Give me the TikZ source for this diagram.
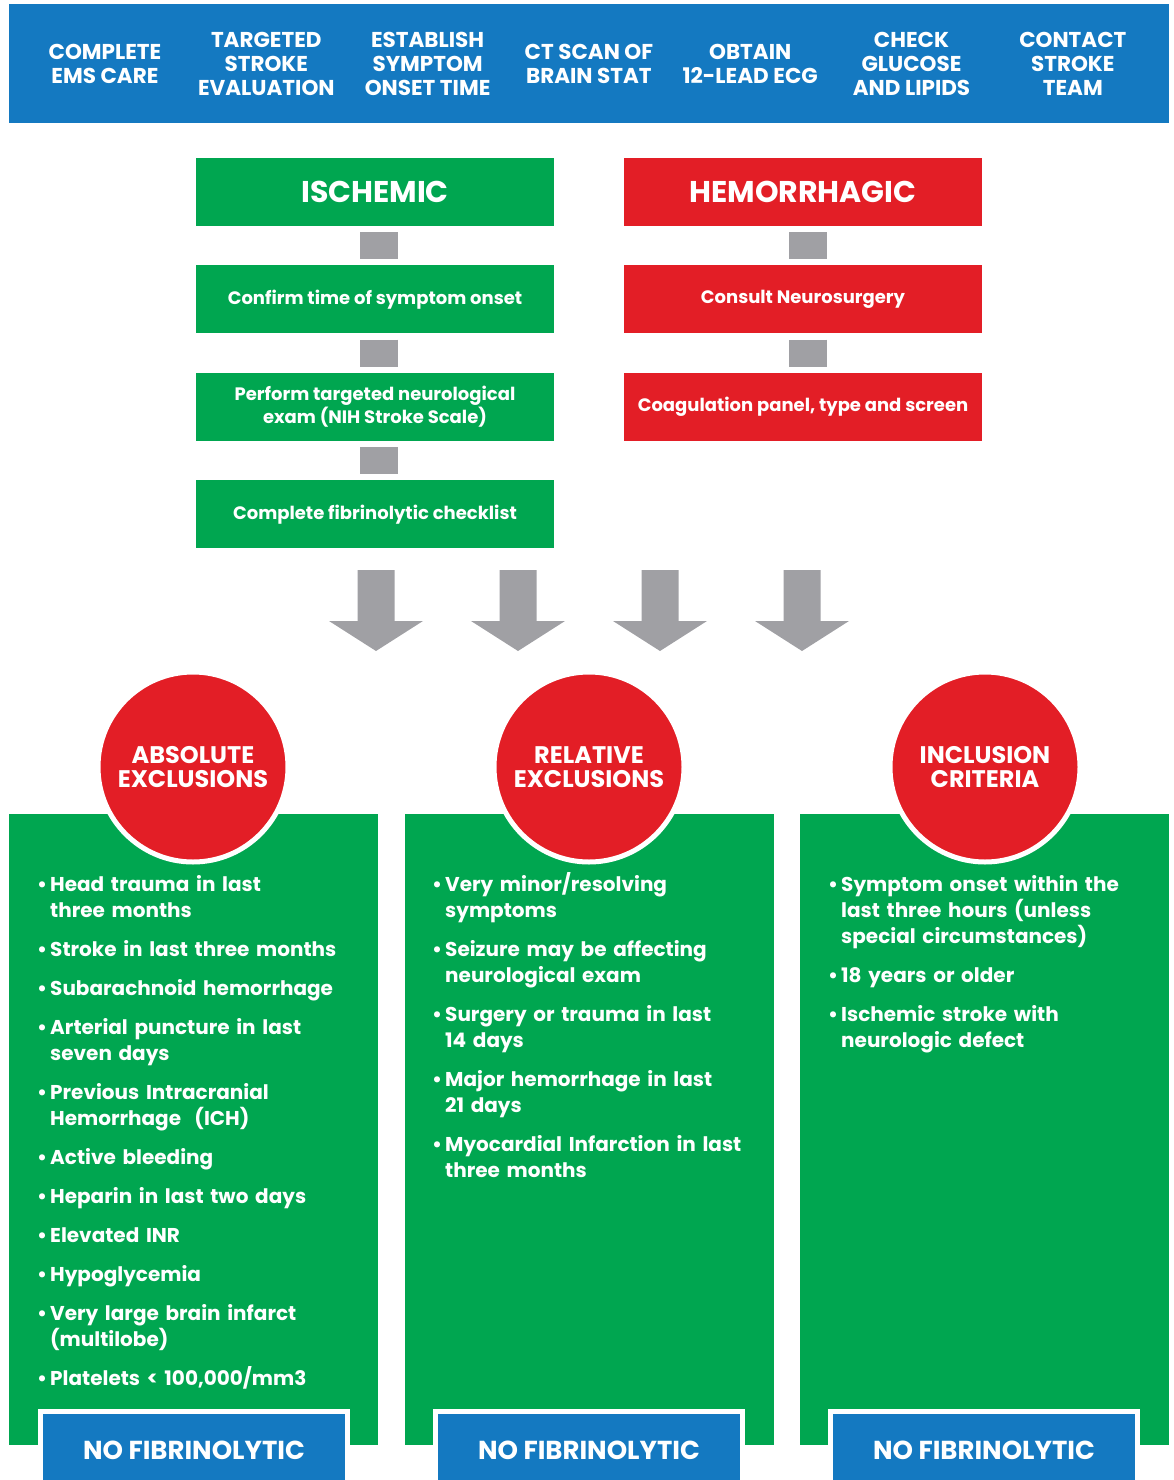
\documentclass[tikz,border=0pt]{standalone}
\usepackage{fontspec}
\setmainfont{Poppins}
\usetikzlibrary{positioning}
\definecolor{hdrblue}{HTML}{1479C1}
\definecolor{okgreen}{HTML}{00A650}
\definecolor{stopred}{HTML}{E31E26}
\definecolor{stepgray}{HTML}{A0A0A4}
\newcommand{\bulitem}[1]{\par\hangindent=13pt\hangafter=1\noindent\makebox[13pt][l]{•}#1}

\begin{document}
\begin{tikzpicture}[x=1pt, y=-1pt,
hdrtext/.style={text=white, align=center, font=\fontsize{21.5}{24}\selectfont\bfseries},
greenbox/.style={rectangle, fill=okgreen, text=white, minimum width=358pt, minimum height=68pt, inner sep=0pt, align=center, font=\fontsize{18}{20}\selectfont\bfseries},
redbox/.style={greenbox, fill=stopred},
titlebox/.style={font=\fontsize{30}{32}\selectfont\bfseries},
stepline/.style={draw=stepgray, line width=38pt, shorten >=6pt, shorten <=6pt},
column/.style={rectangle, fill=okgreen, minimum width=369pt, minimum height=631pt, inner sep=0pt, anchor=north west},
badge/.style={circle, fill=stopred, draw=white, line width=5pt, minimum size=190pt, inner sep=0pt, text=white, align=center, font=\fontsize{24}{24}\selectfont\bfseries},
bullets/.style={text=white, anchor=north west, inner sep=0pt, text width=340pt, align=left, font=\fontsize{20}{26}\selectfont\bfseries, execute at begin node={\setlength{\parskip}{13pt}}},
verdict/.style={rectangle, fill=hdrblue, draw=white, line width=5pt, minimum width=307pt, minimum height=77pt, inner sep=0pt, text=white, font=\fontsize{26}{26}\selectfont\bfseries},
node distance=39pt
]
\clip (0,0) rectangle (1173,1480);
\useasboundingbox (0,0) rectangle (1173,1480);

%Header
\fill[hdrblue] (9,4) rectangle (1169,123);
\foreach \txt [count=\i] in {{COMPLETE\\EMS CARE}, {TARGETED\\STROKE\\EVALUATION}, {ESTABLISH\\SYMPTOM\\ONSET TIME}, {CT SCAN OF\\BRAIN STAT}, {OBTAIN\\12-LEAD ECG}, {CHECK\\GLUCOSE\\AND LIPIDS}, {CONTACT\\STROKE\\TEAM}}
  \node[hdrtext] (hdr\i) at ({105+161.3*(\i-1)},64) {\txt};

%Nodes
\node[greenbox, titlebox]	(isch)		at (375,192)		{ISCHEMIC};
\node[greenbox]			(confirm)	[below=of isch]		{Confirm time of symptom onset};
\node[greenbox]			(nihss)		[below=of confirm]	{Perform targeted neurological\\exam (NIH Stroke Scale)};
\node[greenbox]			(checklist)	[below=of nihss]	{Complete fibrinolytic checklist};
\node[redbox, titlebox]		(hemo)		at (803,192)		{HEMORRHAGIC};
\node[redbox]			(neuro)		[below=of hemo]		{Consult Neurosurgery};
\node[redbox]			(coag)		[below=of neuro]	{Coagulation panel, type and screen};

%Lines
\draw[stepline] ([xshift=4pt]isch.south) -- ([xshift=4pt]confirm.north);
\draw[stepline] ([xshift=4pt]confirm.south) -- ([xshift=4pt]nihss.north);
\draw[stepline] ([xshift=4pt]nihss.south) -- ([xshift=4pt]checklist.north);
\draw[stepline] ([xshift=5pt]hemo.south) -- ([xshift=5pt]neuro.north);
\draw[stepline] ([xshift=5pt]neuro.south) -- ([xshift=5pt]coag.north);

%Big arrows
\foreach \ax in {376,518,660,802}
  \fill[stepgray] ({\ax-18.5},570) -- ({\ax+18.5},570) -- ({\ax+18.5},621) -- ({\ax+47},621) -- (\ax,651) -- ({\ax-47},621) -- ({\ax-18.5},621) -- cycle;

%Columns
\node[column]	(abscol)	at (9,814)	{};
\node[column]	(relcol)	at (405,814)	{};
\node[column]	(inccol)	at (800,814)	{};
\node[badge]	(absc)		at (193,767)	{ABSOLUTE\\EXCLUSIONS};
\node[badge]	(relc)		at (589,767)	{RELATIVE\\EXCLUSIONS};
\node[badge]	(incc)		at (985,767)	{INCLUSION\\CRITERIA};

%Lists
\node[bullets]	(abslist)	at (37,852)	{%
\bulitem{Head trauma in last\newline three months}
\bulitem{Stroke in last three months}
\bulitem{Subarachnoid hemorrhage}
\bulitem{Arterial puncture in last\newline seven days}
\bulitem{Previous Intracranial\newline Hemorrhage\ \ (ICH)}
\bulitem{Active bleeding}
\bulitem{Heparin in last two days}
\bulitem{Elevated INR}
\bulitem{Hypoglycemia}
\bulitem{Very large brain infarct\newline (multilobe)}
\bulitem{Platelets < 100,000/mm3}\par};
\node[bullets]	(rellist)	at (432,852)	{%
\bulitem{Very minor/resolving\newline symptoms}
\bulitem{Seizure may be affecting\newline neurological exam}
\bulitem{Surgery or trauma in last\newline 14 days}
\bulitem{Major hemorrhage in last\newline 21 days}
\bulitem{Myocardial Infarction in last\newline three months}\par};
\node[bullets]	(inclist)	at (828,852)	{%
\bulitem{Symptom onset within the\newline last three hours (unless\newline special circumstances)}
\bulitem{18 years or older}
\bulitem{Ischemic stroke with\newline neurologic defect}\par};

%Verdicts
\node[verdict]	(absno)		at (194,1450)	{NO FIBRINOLYTIC};
\node[verdict]	(relno)		at (589,1450)	{NO FIBRINOLYTIC};
\node[verdict]	(incno)		at (984,1450)	{NO FIBRINOLYTIC};
\end{tikzpicture}
\end{document}
